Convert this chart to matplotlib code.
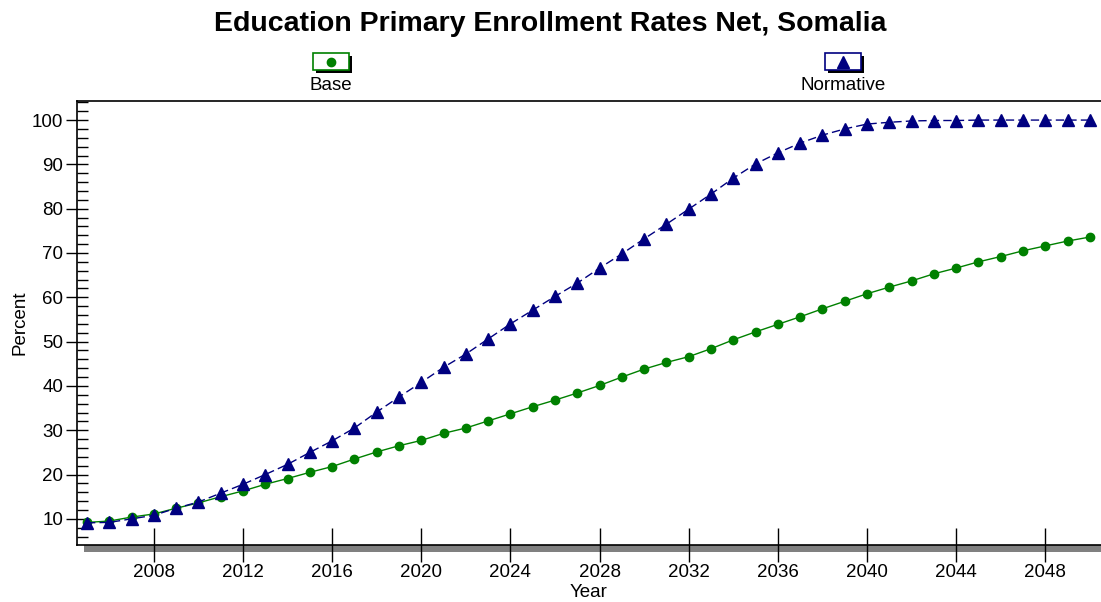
import numpy as np
import matplotlib
matplotlib.use("Agg")
import matplotlib.pyplot as plt
from matplotlib.patches import Rectangle
from matplotlib.lines import Line2D
from matplotlib.ticker import MultipleLocator

plt.rcParams['font.family'] = ['Liberation Sans', 'DejaVu Sans']

# data
years = list(range(2005, 2051))
base = [9.2, 9.5, 10.4, 11.1, 12.4, 13.6, 15.0, 16.3, 17.8, 19.1,
        20.5, 21.8, 23.5, 25.1, 26.5, 27.7, 29.3, 30.5, 32.1, 33.7,
        35.3, 36.8, 38.4, 40.1, 42.0, 43.8, 45.3, 46.6, 48.4, 50.4,
        52.2, 53.9, 55.6, 57.4, 59.1, 60.8, 62.3, 63.7, 65.3, 66.6,
        68.0, 69.2, 70.5, 71.6, 72.7, 73.6]
normative = [9.1, 9.2, 10.0, 10.8, 12.4, 13.8, 15.8, 17.8, 20.0, 22.3,
             25.0, 27.6, 30.5, 34.1, 37.5, 40.8, 44.2, 47.2, 50.6, 54.0,
             57.1, 60.2, 63.2, 66.6, 69.8, 73.2, 76.5, 79.9, 83.3, 86.9,
             90.1, 92.6, 94.8, 96.6, 98.0, 99.1, 99.5, 99.8, 99.9, 99.9,
             100.0, 100.0, 100.0, 100.0, 100.0, 100.0]
xticks = list(range(2008, 2049, 4))
series_names = ["Base", "Normative"]

green = '#008000'
navy = '#000080'

fig = plt.figure(figsize=(11.01, 6.02), dpi=100)
ax = fig.add_axes([0.0699, 0.0947, 0.9301, 0.7375])

ax.plot(years, base, color=green, lw=1.0, marker='o', ms=6,
        markeredgecolor=green, markerfacecolor=green, zorder=3)
ax.plot(years, normative, color=navy, lw=1.0, ls=(0, (6, 3)), marker='^', ms=9,
        markeredgecolor=navy, markerfacecolor=navy, zorder=4)

ax.set_xlim(2004.55, 2050.5)
ax.set_ylim(4.1, 104.3)
ax.set_xticks(xticks)
ax.yaxis.set_major_locator(MultipleLocator(10))
ax.yaxis.set_minor_locator(MultipleLocator(2))
ax.set_yticks(range(10, 101, 10))
ax.tick_params(axis='y', which='major', direction='inout', length=16, width=1,
               labelsize=13.5, pad=2)
ax.tick_params(axis='y', which='minor', direction='in', length=8, width=1)
ax.tick_params(axis='x', which='major', direction='inout', length=24, width=1,
               labelsize=13.5, pad=2)

ax.spines['right'].set_visible(False)
for s in ['left', 'top', 'bottom']:
    ax.spines[s].set_linewidth(1.2)
    ax.spines[s].set_color('black')

# gray shadow below the x axis
ax.add_patch(Rectangle((0.0068, -0.0158), 0.9932, 0.0158, transform=ax.transAxes,
                       facecolor='#808080', edgecolor='none', clip_on=False))

ax.set_xlabel("Year", fontsize=13.5, labelpad=2)
ax.set_ylabel("Percent", fontsize=13.5, labelpad=2)

fig.suptitle("Education Primary Enrollment Rates Net, Somalia",
             fontsize=20.5, fontweight='bold', y=0.982)

# legend drawn as boxes above the plot
W, H = 1101.0, 602.0
legend_items = [(331, green, 'o', 6), (843, navy, '^', 8)]
for name, (cx, col, mk, ms) in zip(series_names, legend_items):
    bw, bh = 36, 17
    x0, y0 = cx - bw / 2, 53
    fig.add_artist(Rectangle(((x0 + 3) / W, 1 - (y0 + bh + 3) / H), bw / W, bh / H,
                             transform=fig.transFigure, facecolor='black',
                             edgecolor='none'))
    fig.add_artist(Rectangle((x0 / W, 1 - (y0 + bh) / H), bw / W, bh / H,
                             transform=fig.transFigure, facecolor='white',
                             edgecolor=col, lw=1.2))
    fig.add_artist(Line2D([cx / W], [1 - (y0 + bh / 2) / H], transform=fig.transFigure,
                          marker=mk, ms=ms, color=col, ls='none'))
    fig.text(cx / W, 1 - 85 / H, name, ha='center', va='center', fontsize=13.5)

fig.savefig("out.png", dpi=100)
